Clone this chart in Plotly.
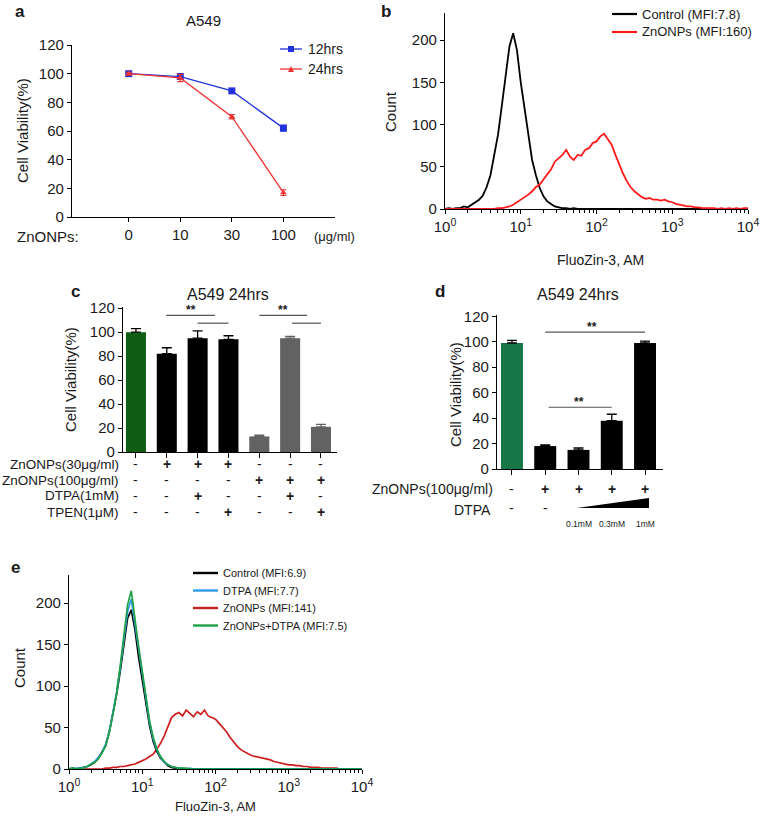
import plotly.graph_objects as go

W, H = 762, 816
FONT = "Arial, Liberation Sans, sans-serif"
INK = "#1a1a1a"

# ---- panel a: dose response ----
a_doses = ["0", "10", "30", "100"]
a_12h = [100, 98, 88, 62]
a_12h_err = [1, 2, 1, 2]
a_24h = [100, 97, 70, 17]
a_24h_err = [1, 2.5, 1.5, 2]

# ---- histogram channels (log10 of intensity, 0.05 decade bins) ----
N_BINS = 81
bin_exp = [i / 20 for i in range(N_BINS)]


def pad(vals):
    return (vals + [0] * N_BINS)[:N_BINS]


# ---- panel b: flow histograms ----
b_control = pad([0, 1, 0, 1, 1, 3, 2, 5, 7, 11, 16, 26, 40, 62, 88, 122, 158, 192, 208, 188,
                 150, 118, 85, 58, 40, 25, 15, 9, 6, 3, 2, 1, 1, 0, 1])
b_zno = pad([0] * 14 + [1, 1, 2, 3, 5, 8, 10, 13, 17, 21, 26, 29, 35, 41, 47, 56, 60, 64, 70, 62,
                        58, 64, 63, 70, 72, 78, 80, 86, 89, 82, 76, 64, 52, 42, 33, 26, 21, 17, 14, 12,
                        13, 11, 11, 10, 11, 9, 8, 6, 5, 4, 3, 3, 2, 2, 1, 1, 1, 1, 0, 1,
                        0, 1, 0, 1, 0, 1, 1])

# ---- panel c: bars ----
c_vals = [100, 82, 95, 94, 13, 95, 21]
c_err = [3, 5, 6, 3, 1, 1.5, 2]
c_colors = ["#105e16", "#000000", "#000000", "#000000", "#626262", "#626262", "#626262"]
c_zn30 = ["-", "+", "+", "+", "-", "-", "-"]
c_zn100 = ["-", "-", "-", "-", "+", "+", "+"]
c_dtpa = ["-", "-", "+", "-", "-", "+", "-"]
c_tpen = ["-", "-", "-", "+", "-", "-", "+"]

# ---- panel d: bars ----
d_vals = [99, 18, 15, 38, 99]
d_err = [2, 1, 1.5, 5, 1.5]
d_colors = ["#177548", "#000000", "#000000", "#000000", "#000000"]
d_zn100 = ["-", "+", "+", "+", "+"]
d_dtpa = ["-", "-"]
d_conc = ["0.1mM", "0.3mM", "1mM"]

# ---- panel e: flow histograms ----
e_control = pad([0, 1, 0, 1, 2, 3, 5, 8, 13, 20, 28, 45, 66, 90, 118, 150, 182, 192, 168, 135,
                 108, 78, 52, 33, 21, 13, 8, 4, 2, 1, 1])
e_dtpa = pad([1, 0, 1, 1, 2, 3, 6, 9, 14, 20, 30, 46, 68, 92, 122, 155, 190, 205, 175, 142,
              115, 84, 56, 36, 23, 14, 8, 5, 3, 2, 1, 1, 0, 1])
e_zno = pad([0] * 10 + [1, 1, 2, 2, 3, 3, 4, 5, 6, 8, 10, 12, 15, 18, 24, 31, 40, 52, 62, 66,
                        68, 64, 71, 67, 63, 69, 66, 71, 64, 62, 60, 55, 50, 45, 38, 32, 27, 23, 20, 18,
                        16, 15, 14, 13, 12, 11, 9, 8, 7, 6, 5, 5, 4, 4, 3, 3, 2, 2, 2, 1,
                        1, 1, 1, 1])
e_zndtpa = pad([0, 1, 0, 1, 1, 3, 5, 8, 12, 19, 28, 44, 66, 92, 125, 160, 198, 215, 180, 148,
                118, 88, 58, 38, 24, 15, 9, 5, 3, 2, 1, 1, 1])

e_legend = ["Control (MFI:6.9)", "DTPA (MFI:7.7)", "ZnONPs (MFI:141)", "ZnONPs+DTPA (MFI:7.5)"]
e_colors = ["#000000", "#2e9be6", "#cc1f1f", "#1fa044"]

log_major = [1, 10, 100, 1000, 10000]
log_minor = [m * d for d in [1, 10, 100, 1000] for m in range(2, 10)]


def fx(px):
    return px / W


def fy(py):
    return 1 - py / H


hist_x = [10 ** e for e in bin_exp]

fig = go.Figure()

# panel a
fig.add_trace(go.Scatter(
    x=[0, 1, 2, 3], y=a_12h, mode="lines+markers",
    line=dict(color="#2233dd", width=1.3),
    marker=dict(symbol="square", size=7, color="#2233dd"),
    error_y=dict(type="data", array=a_12h_err, color="#2233dd", width=3, thickness=1.2),
    xaxis="x", yaxis="y", cliponaxis=False, showlegend=False))
fig.add_trace(go.Scatter(
    x=[0, 1, 2, 3], y=a_24h, mode="lines+markers",
    line=dict(color="#ee3333", width=1.3),
    marker=dict(symbol="triangle-up", size=6, color="#ee3333"),
    error_y=dict(type="data", array=a_24h_err, color="#ee3333", width=3, thickness=1.2),
    xaxis="x", yaxis="y", cliponaxis=False, showlegend=False))

# panel b
fig.add_trace(go.Scatter(x=hist_x, y=b_control, mode="lines",
                         line=dict(color="#000000", width=1.8),
                         xaxis="x2", yaxis="y2", showlegend=False))
fig.add_trace(go.Scatter(x=hist_x, y=b_zno, mode="lines",
                         line=dict(color="#ff1a1a", width=1.8),
                         xaxis="x2", yaxis="y2", showlegend=False))

# panel c
for idx in [list(range(4)), list(range(4, 7))]:
    fig.add_trace(go.Bar(
        x=idx, y=[c_vals[i] for i in idx], width=0.65,
        marker=dict(color=[c_colors[i] for i in idx], line=dict(width=0)),
        error_y=dict(type="data", symmetric=False, array=[c_err[i] for i in idx],
                     arrayminus=[0] * len(idx), color=c_colors[idx[-1]], width=5, thickness=1.3),
        xaxis="x3", yaxis="y3", showlegend=False))

# panel d
fig.add_trace(go.Bar(
    x=list(range(5)), y=d_vals, width=0.66,
    marker=dict(color=d_colors, line=dict(width=0)),
    error_y=dict(type="data", symmetric=False, array=d_err, arrayminus=[0] * 5,
                 color="#000000", width=5, thickness=1.3),
    xaxis="x4", yaxis="y4", showlegend=False))

# panel e
for vals, col in [(e_zno, e_colors[2]), (e_control, e_colors[0]),
                  (e_dtpa, e_colors[1]), (e_zndtpa, e_colors[3])]:
    fig.add_trace(go.Scatter(x=hist_x, y=vals, mode="lines",
                             line=dict(color=col, width=1.7),
                             xaxis="x5", yaxis="y5", showlegend=False))

axis_common = dict(showline=True, linecolor="black", linewidth=1.3, ticks="outside",
                   ticklen=4, tickwidth=1.2, tickcolor="black", showgrid=False,
                   zeroline=False, tickfont=dict(size=15, color=INK, family=FONT))

log_ticks = dict(tickvals=log_major,
                 ticktext=["10<sup>0</sup>", "10<sup>1</sup>", "10<sup>2</sup>",
                           "10<sup>3</sup>", "10<sup>4</sup>"],
                 minor=dict(tickmode="array", tickvals=log_minor, ticks="outside", ticklen=3,
                            tickwidth=1, tickcolor="black", showgrid=False))

fig.update_layout(
    xaxis=dict(**axis_common, domain=[fx(72), fx(335)], range=[-1.1, 4.0],
               tickvals=[0, 1, 2, 3], ticktext=a_doses, anchor="y"),
    yaxis=dict(**axis_common, domain=[fy(217), fy(45)], range=[0, 120], dtick=20, anchor="x"),
    xaxis2=dict(**axis_common, **log_ticks, type="log", domain=[fx(445), fx(748)], range=[0, 4],
                anchor="y2"),
    yaxis2=dict(**axis_common, domain=[fy(209), fy(13)], range=[0, 232],
                tickvals=[0, 50, 100, 150, 200], anchor="x2"),
    xaxis3=dict(axis_common, domain=[fx(123), fx(337)], range=[-0.42, 6.52],
                tickvals=list(range(7)), ticktext=[""] * 7, ticklen=5, anchor="y3"),
    yaxis3=dict(**axis_common, domain=[fy(452), fy(307)], range=[0, 121], dtick=20, anchor="x3"),
    xaxis4=dict(axis_common, domain=[fx(497), fx(663)], range=[-0.45, 4.54],
                tickvals=list(range(5)), ticktext=[""] * 5, ticklen=5, anchor="y4"),
    yaxis4=dict(**axis_common, domain=[fy(469), fy(315)], range=[0, 121], dtick=20, anchor="x4"),
    xaxis5=dict(**axis_common, **log_ticks, type="log", domain=[fx(69), fx(362)], range=[0, 4],
                anchor="y5"),
    yaxis5=dict(**axis_common, domain=[fy(769), fy(575)], range=[0, 234],
                tickvals=[0, 50, 100, 150, 200], anchor="x5"),
    barmode="overlay",
    width=W, height=H,
    margin=dict(l=0, r=0, t=0, b=0, autoexpand=False),
    paper_bgcolor="white", plot_bgcolor="white",
    font=dict(family=FONT, color=INK, size=14),
)

ann = []
shapes = []


def text(t, px, py, size=14, xanchor="center", bold=False, angle=0):
    ann.append(dict(text=f"<b>{t}</b>" if bold else t, x=fx(px), y=fy(py), xref="paper",
                    yref="paper", showarrow=False, xanchor=xanchor, yanchor="middle",
                    textangle=angle, font=dict(size=size, color=INK, family=FONT)))


def seg(px0, px1, py, color, width=2.2):
    shapes.append(dict(type="line", xref="paper", yref="paper", x0=fx(px0), x1=fx(px1),
                       y0=fy(py), y1=fy(py), line=dict(color=color, width=width)))


def sym(s, x, py, xref):
    ann.append(dict(text=f"<b>{s}</b>" if s == "+" else s, x=x, y=fy(py), xref=xref,
                    yref="paper", showarrow=False,
                    font=dict(size=14 if s == "+" else 14, color=INK, family=FONT)))


# panel a text + legend
text("a", 20, 12, 17, bold=True)
text("A549", 203, 20, 15)
text("Cell Viability(%)", 22, 131, 15, angle=-90)
text("ZnONPs:", 81, 236, 15, xanchor="right")
text("(μg/ml)", 312, 236, 13, xanchor="left")
seg(280, 302, 49, "#2233dd", 1.3)
shapes.append(dict(type="rect", xref="paper", yref="paper", x0=fx(288), x1=fx(294),
                   y0=fy(52), y1=fy(46), fillcolor="#2233dd", line=dict(width=0)))
text("12hrs", 306, 49, 14, xanchor="left")
seg(280, 302, 69, "#ee3333", 1.3)
shapes.append(dict(type="path", xref="paper", yref="paper",
                   path=f"M {fx(288)},{fy(72)} L {fx(294)},{fy(72)} L {fx(291)},{fy(66)} Z",
                   fillcolor="#ee3333", line=dict(width=0)))
text("24hrs", 306, 69, 14, xanchor="left")

# panel b text + legend
text("b", 386, 12, 17, bold=True)
text("Count", 391, 112, 15, angle=-90)
text("FluoZin-3, AM", 600, 260, 14)
seg(612, 637, 14, "#000000")
text("Control (MFI:7.8)", 640, 14, 13, xanchor="left")
seg(612, 637, 32, "#ff1a1a")
text("ZnONPs (MFI:160)", 640, 32, 13, xanchor="left")

# panel c text, sig bars and condition rows
text("c", 75, 291, 17, bold=True)
text("A549 24hrs", 228, 294, 16)
text("Cell Viability(%)", 70, 380, 15, angle=-90)
c_rows = [("ZnONPs(30μg/ml)", c_zn30, 464), ("ZnONPs(100μg/ml)", c_zn100, 480),
          ("DTPA(1mM)", c_dtpa, 496), ("TPEN(1μM)", c_tpen, 512)]
for label, row, py in c_rows:
    text(label, 121, py, 13.5, xanchor="right")
    for i, s in enumerate(row):
        sym(s, i, py, "x3")
for x0, x1, yv in [(0.98, 2.56, 114), (2.0, 3.0, 107.5), (4.0, 5.55, 114), (5.06, 6.0, 107.5)]:
    shapes.append(dict(type="line", xref="x3", yref="y3", x0=x0, x1=x1, y0=yv, y1=yv,
                       line=dict(color="#555555", width=1.2)))
for xs in [1.78, 4.78]:
    ann.append(dict(text="<b>**</b>", x=xs, y=114, xref="x3", yref="y3", showarrow=False,
                    yanchor="bottom", yshift=-4, font=dict(size=12, color=INK, family=FONT)))

# panel d
text("d", 440, 291, 17, bold=True)
text("A549 24hrs", 578, 294, 16)
text("Cell Viability(%)", 455, 395, 15, angle=-90)
text("ZnONPs(100μg/ml)", 495, 489, 14, xanchor="right")
text("DTPA", 493, 510, 14, xanchor="right")
for i, s in enumerate(d_zn100):
    sym(s, i, 489, "x4")
for i, s in enumerate(d_dtpa):
    sym(s, i, 508, "x4")
for i, s in enumerate(d_conc):
    ann.append(dict(text=s, x=i + 2, y=fy(524), xref="x4", yref="paper", showarrow=False,
                    font=dict(size=8.5, color=INK, family=FONT)))
shapes.append(dict(type="path", xref="x4", yref="paper",
                   path=f"M 1.95,{fy(508)} L 4.12,{fy(508)} L 4.12,{fy(498)} Z",
                   fillcolor="#000000", line=dict(width=0)))
for x0, x1, yv in [(1.0, 4.0, 107.5), (1.1, 3.0, 48.5)]:
    shapes.append(dict(type="line", xref="x4", yref="y4", x0=x0, x1=x1, y0=yv, y1=yv,
                       line=dict(color="#555555", width=1.2)))
for xs, yv in [(2.4, 107.5), (2.0, 48.5)]:
    ann.append(dict(text="<b>**</b>", x=xs, y=yv, xref="x4", yref="y4", showarrow=False,
                    yanchor="bottom", yshift=-4, font=dict(size=12, color=INK, family=FONT)))

# panel e
text("e", 15, 567, 17, bold=True)
text("Count", 19, 668, 15, angle=-90)
text("FluoZin-3, AM", 215, 806, 13)
for k, (lab, col) in enumerate(zip(e_legend, e_colors)):
    py = 573 + k * 17.5
    seg(193, 218, py, col, 2.4)
    text(lab, 221, py, 11, xanchor="left")

fig.update_layout(annotations=ann, shapes=shapes)
# drop the browser's default 8px body margin so the figure fills the window exactly
fig.write_html("out.html", config={"displayModeBar": False},
               post_script="document.body.style.margin='0px';")
